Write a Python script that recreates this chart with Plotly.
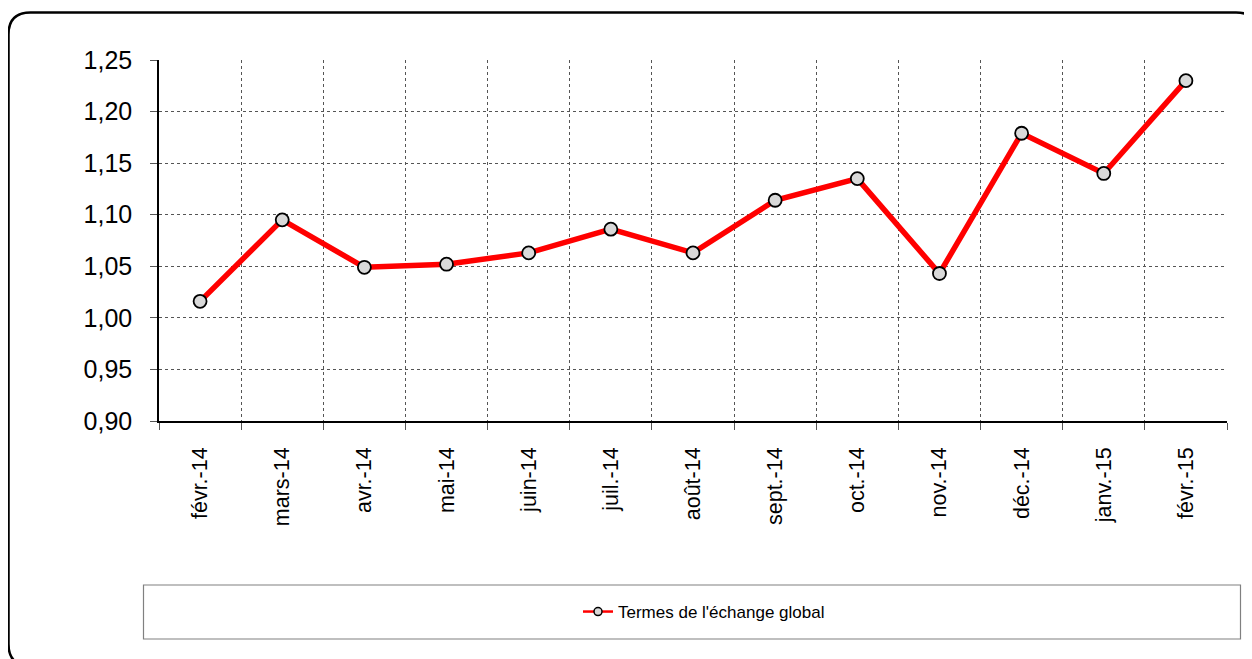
import plotly.graph_objects as go

categories = ["févr.-14", "mars-14", "avr.-14", "mai-14", "juin-14", "juil.-14", "août-14",
              "sept.-14", "oct.-14", "nov.-14", "déc.-14", "janv.-15", "févr.-15"]
values = [1.016, 1.095, 1.049, 1.052, 1.063, 1.086, 1.063, 1.114, 1.135, 1.043, 1.179, 1.140, 1.230]
series_name = "Termes de l'échange global"
y_ticks = [0.90, 0.95, 1.00, 1.05, 1.10, 1.15, 1.20, 1.25]

OFF = 8  # default page body margin
W, H = 1252 - OFF, 659 - OFF
L, T = 159 - OFF, 60 - OFF
PW, PH = 1068, 361
R, B = W - L - PW, H - T - PH

def xp(page_px):
    return (page_px - OFF - L) / PW

def yp(page_py):
    return (T + PH - (page_py - OFF)) / PH

idx = list(range(len(categories)))

fig = go.Figure()
fig.add_trace(go.Scatter(
    x=idx, y=values, mode="lines+markers", name=series_name,
    line=dict(color="#ff0000", width=5.5),
    marker=dict(symbol="circle", size=13, color="#d9d9d9", line=dict(color="#000000", width=1.8)),
    showlegend=False,
))
# legend entry with the thinner legend styling of the reference
fig.add_trace(go.Scatter(
    x=[None], y=[None], mode="lines+markers", name=series_name,
    line=dict(color="#ff0000", width=2.5),
    marker=dict(symbol="circle", size=8, color="#d9d9d9", line=dict(color="#000000", width=1.5)),
    showlegend=True,
))

# outer rounded border
x0, y0, x1, y1, r = 8.5, 12.5, 1258, 666, 22
path = (f"M {xp(x0+r)},{yp(y0)} L {xp(x1-r)},{yp(y0)} Q {xp(x1)},{yp(y0)} {xp(x1)},{yp(y0+r)} "
        f"L {xp(x1)},{yp(y1-r)} Q {xp(x1)},{yp(y1)} {xp(x1-r)},{yp(y1)} "
        f"L {xp(x0+r)},{yp(y1)} Q {xp(x0)},{yp(y1)} {xp(x0)},{yp(y1-r)} "
        f"L {xp(x0)},{yp(y0+r)} Q {xp(x0)},{yp(y0)} {xp(x0+r)},{yp(y0)} Z")

shapes = [
    dict(type="path", xref="paper", yref="paper", path=path,
         line=dict(color="#000000", width=2.5), fillcolor="rgba(0,0,0,0)", layer="below"),
    dict(type="rect", xref="paper", yref="paper",
         x0=xp(143.5), x1=xp(1240.5), y0=yp(639), y1=yp(585),
         line=dict(color="#808080", width=1.2), fillcolor="rgba(0,0,0,0)"),
]

fig.update_layout(
    width=W, height=H,
    margin=dict(l=L, r=R, t=T, b=B),
    paper_bgcolor="white", plot_bgcolor="white",
    font=dict(family="Liberation Sans, Arial, sans-serif", color="#000000"),
    separators=", ",
    shapes=shapes,
    showlegend=True,
    legend=dict(
        x=xp(704), y=yp(612), xanchor="center", yanchor="middle",
        orientation="h", font=dict(size=17), bgcolor="rgba(0,0,0,0)",
        borderwidth=0,
    ),
    xaxis=dict(
        range=[-0.5, len(categories) - 0.5],
        tickmode="array", tickvals=idx, ticktext=categories,
        tickangle=-90, tickfont=dict(size=21.5),
        ticks="", showgrid=False, zeroline=False,
        ticklabelstandoff=16,
        showline=True, linecolor="#000000", linewidth=1.5,
        minor=dict(tickmode="linear", tick0=-0.5, dtick=1, showgrid=True,
                   griddash="dot", gridcolor="#555555", gridwidth=1,
                   ticks="outside", ticklen=7, tickcolor="#555555", tickwidth=1),
    ),
    yaxis=dict(
        range=[0.90, 1.25], tickmode="array", tickvals=y_ticks,
        tickformat=".2f", tickfont=dict(size=25),
        ticks="outside", ticklen=7, tickcolor="#555555", tickwidth=1,
        ticklabelstandoff=13,
        showgrid=True, griddash="dot", gridcolor="#555555", gridwidth=1,
        zeroline=False,
        showline=True, linecolor="#000000", linewidth=1.5,
    ),
)

fig.write_html("out.html")
